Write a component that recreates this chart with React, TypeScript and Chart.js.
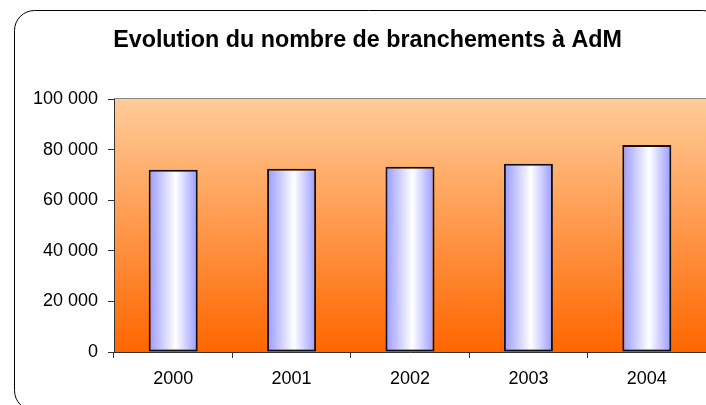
import React, { useEffect, useRef } from "react";
import { Chart, registerables } from "chart.js";

Chart.register(...registerables);

const TITLE = "Evolution du nombre de branchements à AdM";
const years = ["2000", "2001", "2002", "2003", "2004"];
const branchements = [72000, 72400, 73200, 74400, 81800];
const yMin = 0;
const yMax = 100000;
const yStep = 20000;

const FONT = "'Liberation Sans', Arial, sans-serif";
const BAR_PCT = 0.414;

const fmt = (v: number) => String(v).replace(/\B(?=(\d{3})+(?!\d))/g, " ");

const decorPlugin = {
  id: "decor",
  beforeDraw(chart: any) {
    const { ctx, chartArea } = chart;
    const { left, right, top, bottom } = chartArea;
    ctx.save();
    ctx.fillStyle = "#ffffff";
    ctx.fillRect(0, 0, chart.width, chart.height);
    // rounded frame (cropped by the picture)
    ctx.strokeStyle = "#000000";
    ctx.lineWidth = 1;
    ctx.beginPath();
    ctx.roundRect(14.5, 10.5, 708, 400, 20);
    ctx.stroke();
    // plot area gradient
    const g = ctx.createLinearGradient(0, top, 0, bottom);
    g.addColorStop(0, "#FFCC99");
    g.addColorStop(1, "#FF6600");
    ctx.fillStyle = g;
    ctx.fillRect(left, top, right - left, bottom - top);
    // plot area top border
    ctx.strokeStyle = "#8a8a8a";
    ctx.beginPath();
    ctx.moveTo(left, Math.round(top) - 0.5);
    ctx.lineTo(right, Math.round(top) - 0.5);
    ctx.stroke();
    // title
    ctx.fillStyle = "#000000";
    ctx.font = `bold 23.3px ${FONT}`;
    ctx.textAlign = "center";
    ctx.textBaseline = "alphabetic";
    ctx.fillText(TITLE, 367.5, 47);
    ctx.restore();
  },
};

export default function App() {
  const ref = useRef<HTMLCanvasElement | null>(null);

  useEffect(() => {
    document.body.style.margin = "0";
    const canvas = ref.current!;
    const barFill = (context: any) => {
      const chart = context.chart;
      const xs = chart.scales && chart.scales.x;
      if (!xs || !chart.chartArea || context.dataIndex === undefined) return "#ccccff";
      const cx = xs.getPixelForValue(context.dataIndex);
      const w = (xs.width / years.length) * BAR_PCT;
      if (!isFinite(cx) || !isFinite(w)) return "#ccccff";
      const g = chart.ctx.createLinearGradient(cx - w / 2, 0, cx + w / 2, 0);
      g.addColorStop(0, "#9999FF");
      g.addColorStop(0.55, "#FFFFFF");
      g.addColorStop(1, "#9999FF");
      return g;
    };

    const chart = new Chart(canvas, {
      type: "bar",
      data: {
        labels: years,
        datasets: [
          {
            data: branchements,
            backgroundColor: barFill,
            borderColor: "#111111",
            borderWidth: 2,
            borderSkipped: false,
            categoryPercentage: 1,
            barPercentage: BAR_PCT,
          },
        ],
      },
      options: {
        responsive: false,
        animation: false,
        layout: { padding: { top: 99, left: 0, right: 0, bottom: 0 } },
        plugins: {
          legend: { display: false },
          title: { display: false },
          tooltip: { enabled: false },
        },
        scales: {
          x: {
            afterFit: (s: any) => {
              s.height = 53;
            },
            border: { display: true, color: "#333333", width: 1 },
            grid: {
              offset: true,
              drawOnChartArea: false,
              drawTicks: true,
              tickLength: 6,
              color: "#333333",
            },
            ticks: {
              color: "#000000",
              padding: 10,
              font: { family: FONT, size: 18 },
            },
          },
          y: {
            min: yMin,
            max: yMax,
            afterFit: (s: any) => {
              s.width = 114;
            },
            border: { display: true, color: "#333333", width: 1 },
            grid: {
              drawOnChartArea: false,
              drawTicks: true,
              tickLength: 6,
              color: "#333333",
            },
            ticks: {
              stepSize: yStep,
              color: "#000000",
              padding: 10,
              font: { family: FONT, size: 18 },
              callback: (v: any) => fmt(Number(v)),
            },
          },
        },
      },
      plugins: [decorPlugin],
    });
    return () => chart.destroy();
  }, []);

  return (
    <div style={{ position: "fixed", left: 0, top: 0, width: 706, height: 405 }}>
      <canvas ref={ref} width={706} height={405} style={{ width: 706, height: 405, display: "block" }} />
    </div>
  );
}
